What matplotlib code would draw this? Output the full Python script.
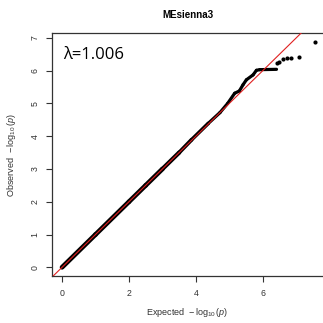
import matplotlib
matplotlib.use("Agg")
import matplotlib.pyplot as plt
from matplotlib.collections import LineCollection

# Dense run of overlapping points (expected vs observed -log10 p)
dense_expected = [0.0, 1.0, 2.0, 2.5, 3.0, 3.5, 3.87, 4.37, 4.72, 4.95, 5.16, 5.30,
                  5.41, 5.51, 5.71, 5.81, 5.91, 6.41]
dense_observed = [0.0, 1.0, 2.0, 2.5, 3.0, 3.5, 3.89, 4.39, 4.72, 5.00, 5.31, 5.38,
                  5.57, 5.72, 5.87, 6.01, 6.03, 6.04]

# Sparse upper tail
tail_expected = [6.43, 6.49, 6.59, 6.71, 6.84, 7.07, 7.55]
tail_observed = [6.23, 6.27, 6.35, 6.40, 6.40, 6.43, 6.88]

lambda_gc = 1.006
title = "MEsienna3"
x_ticks = [0, 2, 4, 6]
y_ticks = [0, 1, 2, 3, 4, 5, 6, 7]

plt.rcParams["font.family"] = ["Liberation Sans", "DejaVu Sans"]
plt.rcParams["mathtext.fontset"] = "custom"
plt.rcParams["mathtext.rm"] = "Liberation Sans"
plt.rcParams["mathtext.it"] = "Liberation Sans:italic"

fig = plt.figure(figsize=(3.23, 3.23), dpi=100)
ax = fig.add_axes([0.161, 0.144, 0.839, 0.754])

# the point cloud thins out as it climbs, so the band narrows gradually
segments = [[(dense_expected[i], dense_observed[i]), (dense_expected[i + 1], dense_observed[i + 1])]
            for i in range(len(dense_expected) - 1)]
widths = []
for (x0, _), _ in segments:
    if x0 < 2.5:
        widths.append(3.4)
    else:
        widths.append(max(2.3, 3.4 - (x0 - 2.5) * 0.55))
band = LineCollection(segments, colors="black", linewidths=widths, capstyle="round",
                      joinstyle="round", zorder=2)
ax.add_collection(band)
ax.plot(tail_expected, tail_observed, "o", color="black", ms=3.0, mew=0, zorder=2)
ax.axline((0, 0), slope=1, color="#e02020", lw=0.8, zorder=3)

ax.set_xlim(-0.3, 7.8)
ax.set_ylim(-0.28, 7.15)
ax.set_xticks(x_ticks)
ax.set_yticks(y_ticks)
ax.tick_params(axis="both", labelsize=6.3, length=4, width=0.8, color="#333333",
               labelcolor="#333333", pad=5)
for lab in ax.get_yticklabels():
    lab.set_rotation(90)
    lab.set_va("center")

for side in ["left", "bottom", "top"]:
    ax.spines[side].set_linewidth(0.9)
    ax.spines[side].set_color("#333333")
ax.spines["right"].set_visible(False)

ax.set_xlabel(r"Expected  $-\,\log_{10}(\mathit{p})$", fontsize=6.5, color="#333333", labelpad=6)
ax.set_ylabel(r"Observed  $-\,\log_{10}(\mathit{p})$", fontsize=6.5, color="#333333", labelpad=9)
ax.set_title(title, fontsize=7, fontweight="bold", pad=11)

ax.text(0.04, 0.91, f"λ={lambda_gc:.3f}", transform=ax.transAxes,
        fontsize=12, family=["Open Sans", "DejaVu Sans"], va="center", ha="left")

fig.savefig("out.png", dpi=100)
